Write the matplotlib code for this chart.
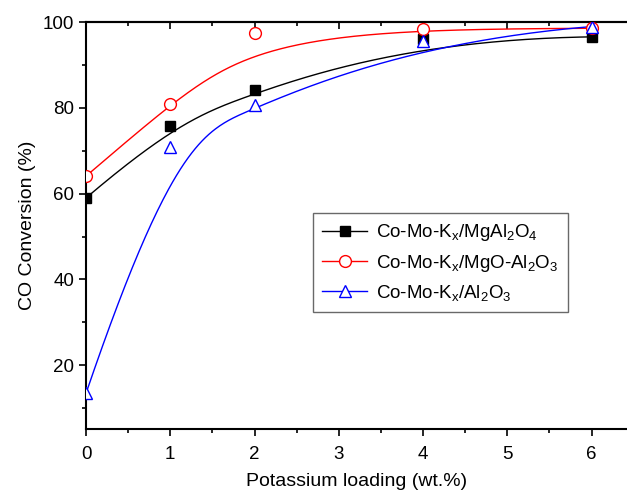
import numpy as np
import matplotlib.pyplot as plt
from matplotlib.ticker import MultipleLocator

plt.rcParams['font.family'] = ['Liberation Sans', 'DejaVu Sans']
plt.rcParams['mathtext.fontset'] = 'custom'
plt.rcParams['mathtext.rm'] = 'Liberation Sans'
plt.rcParams['mathtext.it'] = 'Liberation Sans'

loading = [0, 1, 2, 4, 6]
mgal2o4 = [59.0, 75.7, 84.1, 96.0, 96.6]
mgo_al2o3 = [64.1, 80.9, 97.5, 98.4, 98.6]
al2o3 = [13.4, 71.0, 80.6, 95.7, 99.0]

labels = ['Co-Mo-K$_x$/MgAl$_2$O$_4$',
          'Co-Mo-K$_x$/MgO-Al$_2$O$_3$',
          'Co-Mo-K$_x$/Al$_2$O$_3$']


def bspline(xs, ys, k=3, n=300):
    # clamped B-spline, data points as control points,
    # interior knots averaged from the x positions
    P = np.column_stack([xs, ys]).astype(float)
    m = len(P)
    u = (P[:, 0] - P[0, 0]) / (P[-1, 0] - P[0, 0])
    inner = [np.mean(u[j:j + k]) for j in range(1, m - k)]
    knots = np.concatenate([np.zeros(k + 1), inner, np.ones(k + 1)])
    t = np.linspace(0, 1 - 1e-9, n)
    N = np.zeros((n, len(knots) - 1))
    for i in range(len(knots) - 1):
        N[:, i] = (t >= knots[i]) & (t < knots[i + 1])
    for d in range(1, k + 1):
        Nn = np.zeros((n, len(knots) - 1 - d))
        for i in range(len(knots) - 1 - d):
            a = knots[i + d] - knots[i]
            b = knots[i + d + 1] - knots[i + 1]
            left = (t - knots[i]) / a * N[:, i] if a > 0 else 0
            right = (knots[i + d + 1] - t) / b * N[:, i + 1] if b > 0 else 0
            Nn[:, i] = left + right
        N = Nn
    C = N @ P
    return C[:, 0], C[:, 1]


fig = plt.figure(figsize=(6.27, 4.93), dpi=100)
ax = fig.add_axes([0.1372, 0.1292, 0.8628, 0.8256])

series = [
    (mgal2o4, 'black', dict(marker='s', markerfacecolor='black', markersize=7.5)),
    (mgo_al2o3, 'red', dict(marker='o', markerfacecolor='white', markersize=8.5)),
    (al2o3, 'blue', dict(marker='^', markerfacecolor='white', markersize=8.5)),
]
for (vals, col, mk), lab in zip(series, labels):
    cx, cy = bspline(loading, vals)
    ax.plot(cx, cy, color=col, lw=1.0, zorder=2)
    ax.plot(loading, vals, ls='none', color=col, markeredgecolor=col,
            markeredgewidth=1.0, zorder=3, **mk)
    ax.plot([], [], color=col, lw=1.0, markeredgecolor=col,
            markeredgewidth=1.0, label=lab, **mk)

ax.set_xlim(0, 6.42)
ax.set_ylim(5, 100)
ax.xaxis.set_major_locator(MultipleLocator(1))
ax.xaxis.set_minor_locator(MultipleLocator(0.5))
ax.yaxis.set_major_locator(MultipleLocator(20))
ax.yaxis.set_minor_locator(MultipleLocator(10))
ax.tick_params(which='both', direction='out', width=1.2, labelsize=13.5, top=False)
ax.tick_params(which='major', length=5)
ax.tick_params(which='minor', length=3)
ax.tick_params(axis='x', pad=7)

for s in ['left', 'bottom', 'top']:
    ax.spines[s].set_linewidth(1.5)
ax.spines['right'].set_visible(False)

# inward ticks on the top spine
sec = ax.secondary_xaxis('top')
sec.xaxis.set_major_locator(MultipleLocator(1))
sec.xaxis.set_minor_locator(MultipleLocator(0.5))
sec.tick_params(which='both', direction='in', width=1.2, labeltop=False)
sec.tick_params(which='major', length=5)
sec.tick_params(which='minor', length=3)
sec.spines['top'].set_linewidth(1.5)

ax.set_xlabel('Potassium loading (wt.%)', fontsize=14, labelpad=7)
ax.set_ylabel('CO Conversion (%)', fontsize=14, labelpad=5)

leg = ax.legend(loc='upper left', bbox_to_anchor=(0.4196, 0.532), borderaxespad=0,
                fontsize=13.5, frameon=True, fancybox=False, edgecolor='#444444',
                handlelength=2.4, handletextpad=0.45, labelspacing=0.5,
                borderpad=0.5)
leg.get_frame().set_linewidth(1.0)

fig.savefig('out.png', dpi=100)
